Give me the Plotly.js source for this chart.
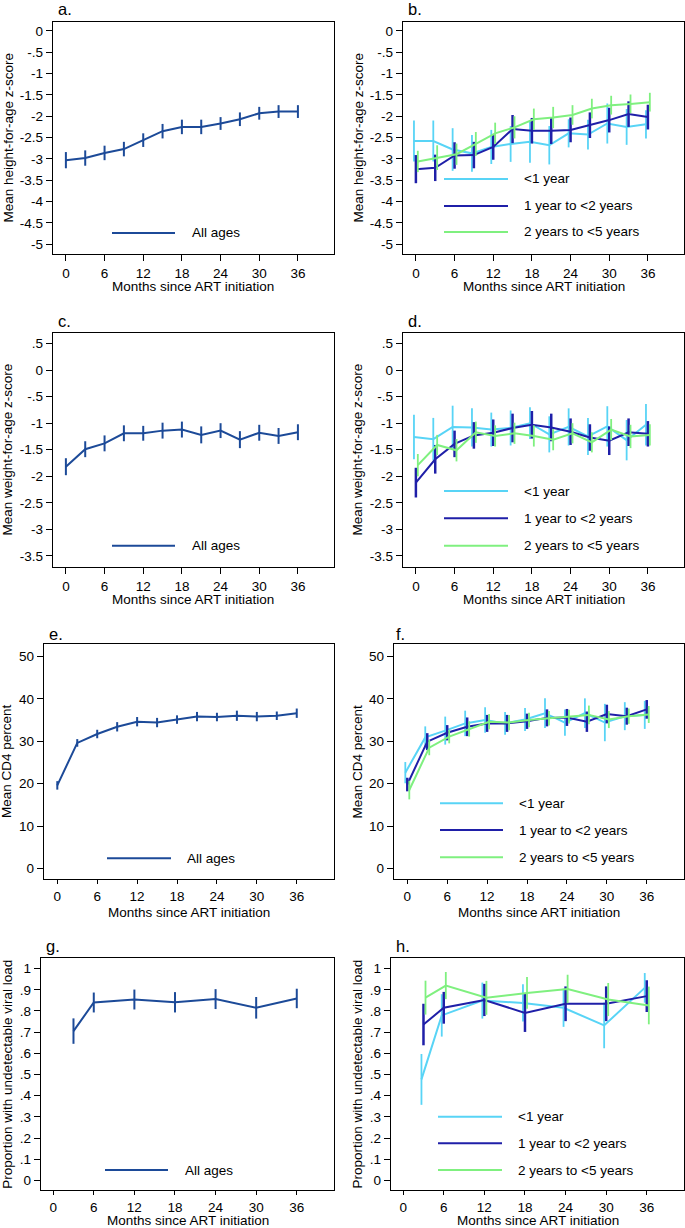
<!DOCTYPE html>
<html>
<head>
<meta charset="utf-8">
<script src="https://cdn.plot.ly/plotly-3.0.1.min.js"></script>
<style>body{margin:0;background:#fff}</style>
</head>
<body>
<div id="plot" style="width:685px;height:1228px"></div>
<script>
// months since ART initiation
const months = [0, 3, 6, 9, 12, 15, 18, 21, 24, 27, 30, 33, 36];
const vlMonths = [3, 6, 12, 18, 24, 30, 36];
const monthTicks = [0, 6, 12, 18, 24, 30, 36];

// height-for-age z-score (a, b)
const hazAll = [-3.03, -2.98, -2.86, -2.77, -2.56, -2.35, -2.25, -2.25, -2.17, -2.07, -1.93, -1.89, -1.89];
const hazAllCi = [0.19, 0.18, 0.17, 0.17, 0.16, 0.17, 0.17, 0.17, 0.15, 0.16, 0.15, 0.15, 0.15];
const hazLt1 = [-2.58, -2.58, -2.78, -2.87, -2.72, -2.65, -2.60, -2.68, -2.40, -2.43, -2.17, -2.25, -2.19];
const hazLt1Ci = [0.48, 0.48, 0.5, 0.43, 0.4, 0.42, 0.49, 0.45, 0.33, 0.35, 0.47, 0.42, 0.33];
const hazAge1 = [-3.24, -3.21, -2.92, -2.91, -2.72, -2.30, -2.34, -2.34, -2.32, -2.21, -2.09, -1.95, -2.02];
const hazAge1Ci = [0.33, 0.31, 0.31, 0.31, 0.3, 0.33, 0.3, 0.31, 0.29, 0.3, 0.29, 0.3, 0.29];
const hazAge2 = [-3.06, -2.97, -2.89, -2.65, -2.40, -2.26, -2.07, -2.03, -1.97, -1.82, -1.74, -1.71, -1.67];
const hazAge2Ci = [0.25, 0.29, 0.25, 0.28, 0.25, 0.26, 0.25, 0.25, 0.23, 0.23, 0.22, 0.22, 0.22];

// weight-for-age z-score (c, d)
const wazAll = [-1.82, -1.49, -1.38, -1.19, -1.19, -1.14, -1.12, -1.22, -1.14, -1.31, -1.18, -1.24, -1.17];
const wazAllCi = [0.16, 0.15, 0.15, 0.15, 0.14, 0.15, 0.15, 0.16, 0.14, 0.16, 0.15, 0.15, 0.15];
const wazLt1 = [-1.26, -1.30, -1.07, -1.08, -1.12, -1.09, -1.00, -1.21, -1.07, -1.25, -1.06, -1.32, -1.03];
const wazLt1Ci = [0.42, 0.40, 0.40, 0.36, 0.32, 0.33, 0.30, 0.34, 0.35, 0.35, 0.38, 0.38, 0.39];
const wazAge1 = [-2.12, -1.68, -1.39, -1.23, -1.18, -1.09, -1.03, -1.08, -1.16, -1.27, -1.33, -1.17, -1.20];
const wazAge1Ci = [0.28, 0.27, 0.25, 0.25, 0.25, 0.27, 0.26, 0.26, 0.25, 0.25, 0.27, 0.26, 0.24];
const wazAge2 = [-1.79, -1.41, -1.51, -1.17, -1.24, -1.19, -1.24, -1.31, -1.19, -1.36, -1.12, -1.25, -1.22];
const wazAge2Ci = [0.21, 0.19, 0.21, 0.2, 0.2, 0.2, 0.2, 0.2, 0.19, 0.19, 0.2, 0.22, 0.2];

// CD4 percent (e, f)
const cd4All = [19.6, 29.6, 31.7, 33.4, 34.6, 34.4, 35.1, 35.8, 35.7, 36.0, 35.8, 36.0, 36.6];
const cd4AllCi = [1.0, 0.9, 1.0, 1.1, 1.1, 1.1, 1.0, 1.1, 1.0, 1.2, 1.1, 1.0, 1.1];
const cd4Lt1 = [22.6, 30.9, 32.5, 34.2, 35.0, 34.2, 35.1, 36.6, 34.4, 36.6, 34.4, 35.9, 36.2];
const cd4Lt1Ci = [2.5, 2.6, 3.3, 3.0, 3.0, 2.7, 2.7, 3.5, 3.1, 3.5, 4.4, 3.3, 3.3];
const cd4Age1 = [19.8, 29.9, 32.0, 33.4, 34.2, 34.2, 34.7, 35.5, 35.6, 34.6, 36.4, 35.9, 37.5];
const cd4Age1Ci = [1.6, 2.0, 1.8, 2.2, 2.0, 2.0, 1.8, 2.0, 2.0, 2.4, 2.2, 2.0, 2.2];
const cd4Age2 = [18.5, 28.5, 31.1, 32.9, 34.6, 34.4, 35.0, 35.4, 35.8, 36.2, 35.1, 35.9, 36.3];
const cd4Age2Ci = [2.2, 1.8, 1.6, 1.8, 1.8, 1.8, 1.7, 1.7, 1.6, 2.2, 2.0, 1.8, 2.0];

// proportion with undetectable viral load (g, h)
const vlAll = [0.705, 0.84, 0.854, 0.841, 0.856, 0.815, 0.859];
const vlAllCi = [0.06, 0.047, 0.047, 0.048, 0.047, 0.051, 0.046];
const vlLt1 = [0.477, 0.779, 0.849, 0.838, 0.815, 0.732, 0.909];
const vlLt1Ci = [0.12, 0.10, 0.085, 0.088, 0.09, 0.108, 0.07];
const vlAge1 = [0.736, 0.815, 0.852, 0.791, 0.834, 0.834, 0.87];
const vlAge1Ci = [0.098, 0.075, 0.076, 0.09, 0.082, 0.082, 0.075];
const vlAge2 = [0.863, 0.92, 0.862, 0.885, 0.904, 0.854, 0.826];
const vlAge2Ci = [0.08, 0.064, 0.08, 0.075, 0.067, 0.078, 0.089];

// tick labels
const hazTicks = [0, -0.5, -1, -1.5, -2, -2.5, -3, -3.5, -4, -4.5, -5];
const hazTickText = ['0', '-.5', '-1', '-1.5', '-2', '-2.5', '-3', '-3.5', '-4', '-4.5', '-5'];
const wazTicks = [0.5, 0, -0.5, -1, -1.5, -2, -2.5, -3, -3.5];
const wazTickText = ['.5', '0', '-.5', '-1', '-1.5', '-2', '-2.5', '-3', '-3.5'];
const cd4Ticks = [0, 10, 20, 30, 40, 50];
const vlTicks = [0, 0.1, 0.2, 0.3, 0.4, 0.5, 0.6, 0.7, 0.8, 0.9, 1];
const vlTickText = ['0', '.1', '.2', '.3', '.4', '.5', '.6', '.7', '.8', '.9', '1'];

const groupNames = ['<1 year', '1 year to <2 years', '2 years to <5 years'];

const W = 685, H = 1228;
const FONT = 'Liberation Sans, Arial, Helvetica, sans-serif';
const navy = '#1c4a98', cyan = '#58d4f6', blue = '#1f1fa8', green = '#7ff07f';

// frame of each panel in pixels: left, right, top, bottom
const boxes = [
  [53, 334, 22, 254], [403, 684, 22, 254],
  [53, 334, 333, 567], [403, 684, 333, 567],
  [44, 334, 644, 879], [394, 684, 644, 879],
  [41, 334, 958, 1190], [391, 684, 958, 1190]
];
const px = v => v / W;
const py = v => 1 - v / H;

let data = [];
function addSeries(n, xs, ys, ci, color, lw, ew, shift) {
  data.push({
    x: xs.map(m => m + shift), y: ys,
    type: 'scatter', mode: 'lines',
    line: {color: color, width: lw},
    error_y: {type: 'data', array: ci, visible: true, color: color, thickness: ew, width: 0},
    xaxis: n === 1 ? 'x' : 'x' + n, yaxis: n === 1 ? 'y' : 'y' + n,
    hoverinfo: 'skip'
  });
}

addSeries(1, months, hazAll, hazAllCi, navy, 2, 2, 0);
addSeries(2, months, hazLt1, hazLt1Ci, cyan, 2, 1.8, -0.3);
addSeries(2, months, hazAge1, hazAge1Ci, blue, 2, 2.5, 0);
addSeries(2, months, hazAge2, hazAge2Ci, green, 2, 1.8, 0.3);
addSeries(3, months, wazAll, wazAllCi, navy, 2, 2, 0);
addSeries(4, months, wazLt1, wazLt1Ci, cyan, 2, 1.8, -0.3);
addSeries(4, months, wazAge1, wazAge1Ci, blue, 2, 2.5, 0);
addSeries(4, months, wazAge2, wazAge2Ci, green, 2, 1.8, 0.3);
addSeries(5, months, cd4All, cd4AllCi, navy, 2, 2, 0);
addSeries(6, months, cd4Lt1, cd4Lt1Ci, cyan, 2, 1.8, -0.3);
addSeries(6, months, cd4Age1, cd4Age1Ci, blue, 2, 2.5, 0);
addSeries(6, months, cd4Age2, cd4Age2Ci, green, 2, 1.8, 0.3);
addSeries(7, vlMonths, vlAll, vlAllCi, navy, 2, 2, 0);
addSeries(8, vlMonths, vlLt1, vlLt1Ci, cyan, 2, 1.8, -0.3);
addSeries(8, vlMonths, vlAge1, vlAge1Ci, blue, 2, 2.5, 0);
addSeries(8, vlMonths, vlAge2, vlAge2Ci, green, 2, 1.8, 0.3);

const yRanges = [[-5.23, 0.21], [-5.23, 0.21], [-3.71, 0.70], [-3.71, 0.70],
                 [-2.45, 52.9], [-2.45, 52.9], [-0.045, 1.05], [-0.045, 1.05]];
const xRanges = [[-2, 41.6], [-2, 41.6], [-2, 41.6], [-2, 41.6],
                 [-2, 41.6], [-2, 41.6], [-1.8, 41.5], [-1.8, 41.5]];
const yTickSets = [[hazTicks, hazTickText], [hazTicks, hazTickText], [wazTicks, wazTickText], [wazTicks, wazTickText],
                   [cd4Ticks, cd4Ticks.map(String)], [cd4Ticks, cd4Ticks.map(String)], [vlTicks, vlTickText], [vlTicks, vlTickText]];

let layout = {
  width: W, height: H,
  margin: {l: 0, r: 0, t: 0, b: 0},
  paper_bgcolor: '#fff', plot_bgcolor: '#fff',
  showlegend: false,
  font: {family: FONT, size: 13.5, color: '#000'},
  shapes: [], annotations: []
};

const common = {
  ticks: 'outside', ticklen: 6, tickwidth: 1, tickcolor: '#000',
  showline: true, mirror: true, linecolor: '#000', linewidth: 1.3,
  showgrid: false, zeroline: false,
  tickfont: {family: FONT, size: 13.5, color: '#000'}
};

boxes.forEach((b, i) => {
  const n = i + 1;
  const sfx = n === 1 ? '' : String(n);
  layout['xaxis' + sfx] = Object.assign({}, common, {
    domain: [px(b[0]), px(b[1])], range: xRanges[i],
    tickmode: 'array', tickvals: monthTicks,
    ticklen: n > 4 ? 4 : 6,
    anchor: 'y' + sfx
  });
  layout['yaxis' + sfx] = Object.assign({}, common, {
    domain: [py(b[3]), py(b[2])], range: yRanges[i],
    tickmode: 'array', tickvals: yTickSets[i][0], ticktext: yTickSets[i][1],
    anchor: 'x' + sfx
  });
});

function note(text, x, y, opts) {
  layout.annotations.push(Object.assign({
    text: text, xref: 'paper', yref: 'paper', x: px(x), y: py(y),
    showarrow: false, xanchor: 'center', yanchor: 'middle',
    font: {family: FONT, size: 13.5, color: '#000'}
  }, opts || {}));
}

// panel letters
const letters = [['a.', 56, 9], ['b.', 406, 9], ['c.', 56, 321], ['d.', 406, 321],
                 ['e.', 47, 634], ['f.', 394, 634], ['g.', 44, 946], ['h.', 394, 946]];
letters.forEach(l => note(l[0], l[1], l[2], {xanchor: 'left', font: {family: FONT, size: 16.5, color: '#000'}}));

// axis titles
const yTitles = ['Mean height-for-age z-score', 'Mean height-for-age z-score',
                 'Mean weight-for-age z-score', 'Mean weight-for-age z-score',
                 'Mean CD4 percent', 'Mean CD4 percent',
                 'Proportion with undetectable viral load', 'Proportion with undetectable viral load'];
const yTitleX = [7.5, 357.5, 7.5, 357.5, 6.5, 357, 6.7, 356.6];
const xTitleY = [286, 286, 599, 599, 912, 912, 1220.5, 1220.5];
boxes.forEach((b, i) => {
  note('Months since ART initiation', (b[0] + b[1]) / 2, xTitleY[i]);
  note(yTitles[i], yTitleX[i], (b[2] + b[3]) / 2, {textangle: -90});
});

// legends drawn inside the panels
function legendItem(x0, x1, y, color, tx, label) {
  layout.shapes.push({type: 'line', xref: 'paper', yref: 'paper',
    x0: px(x0), x1: px(x1), y0: py(y), y1: py(y), line: {color: color, width: 2}});
  note(label, tx, y, {xanchor: 'left'});
}
legendItem(112, 175, 233, navy, 190, 'All ages');
legendItem(112, 175, 545.7, navy, 190, 'All ages');
legendItem(107, 171, 858.3, navy, 185, 'All ages');
legendItem(105, 168, 1170, navy, 183, 'All ages');
const groupColors = [cyan, blue, green];
[[444, 508, [179, 206, 232], 522], [444, 508, [491, 518.3, 545.7], 522],
 [440, 503, [803.3, 830, 857.3], 517], [438, 502, [1116.7, 1143.3, 1170], 516]].forEach(g => {
  g[2].forEach((y, k) => legendItem(g[0], g[1], y, groupColors[k], g[3], groupNames[k]));
});

Plotly.newPlot('plot', data, layout, {staticPlot: true});
</script>
</body>
</html>
